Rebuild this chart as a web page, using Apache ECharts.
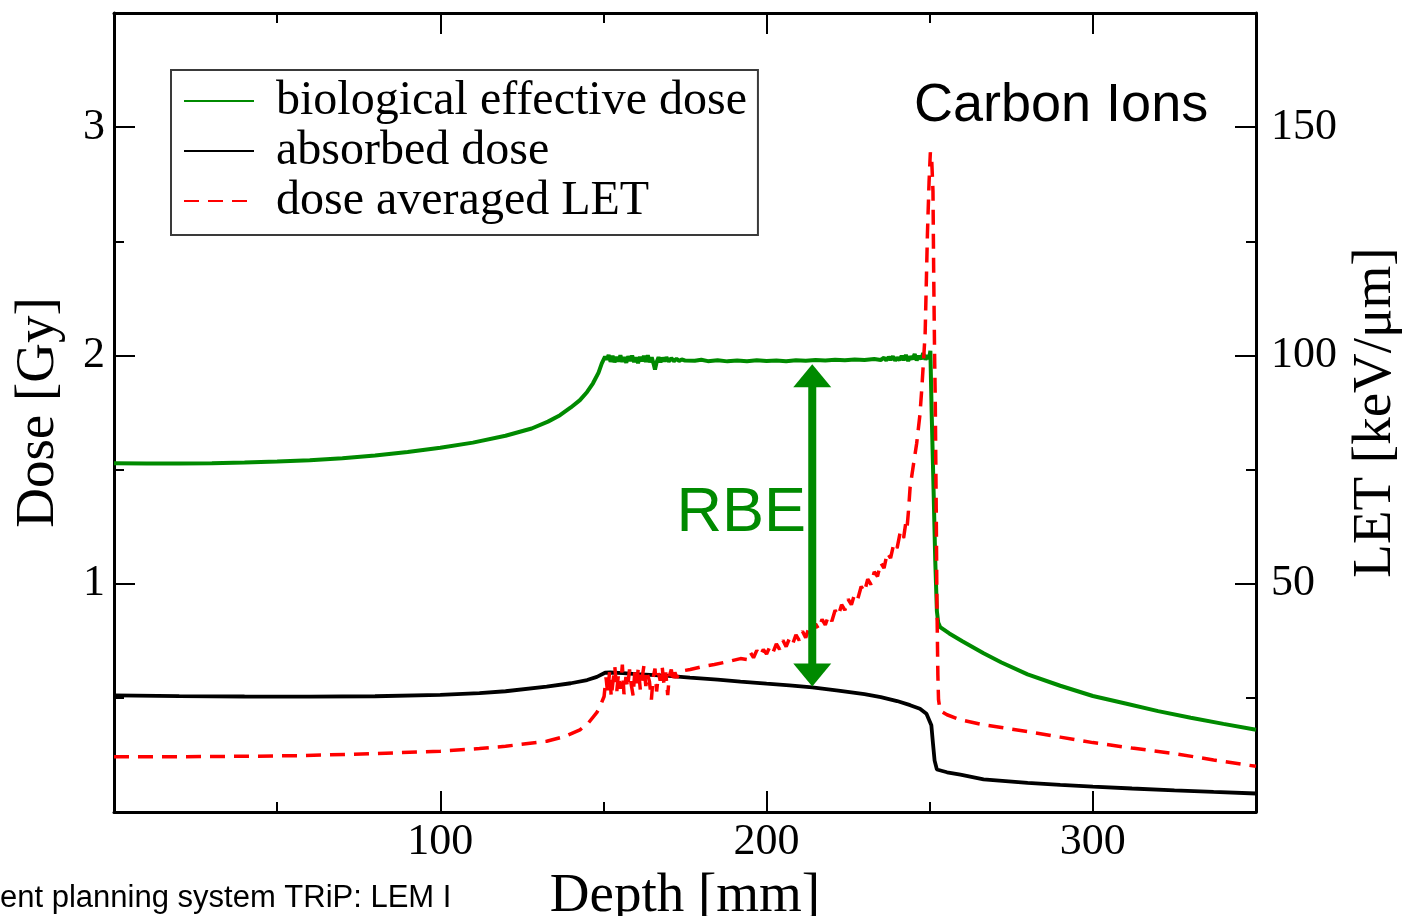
<!DOCTYPE html>
<html><head><meta charset="utf-8">
<script src="https://cdn.jsdelivr.net/npm/echarts@6/dist/echarts.min.js"></script>
<style>html,body{margin:0;padding:0;background:#fff;overflow:hidden}#c{width:1403px;height:916px}</style>
</head><body><div id="c"></div>
<script>
// ---------------- data ----------------
const seriesNames = ['biological effective dose', 'absorbed dose', 'dose averaged LET'];

// depth [mm] , biological effective dose [Gy]
const bioDose = [
  [0,1.528],[10,1.527],[20,1.527],[30,1.528],[40,1.531],[50,1.535],[60,1.541],[70,1.55],[80,1.562],[90,1.577],
  [100,1.596],[110,1.618],[120,1.648],[128,1.68],[133,1.71],[136.7,1.738],[140,1.772],[142.8,1.804],[145,1.84],
  [146.8,1.878],[148.5,1.925],[149.5,1.965],[150.5,1.995],
  [151,1.982],[151.6,2.002],[152.2,1.972],[152.8,1.998],[153.4,1.97],[154,1.994],[154.6,1.974],[155.2,2.0],
  [155.8,1.972],[156.4,1.992],[157,1.968],[157.6,1.996],[158.2,1.976],[158.8,1.999],[159.4,1.971],[160,1.992],
  [160.6,1.966],[161.2,1.994],[161.8,1.975],[162.4,1.998],[163,1.972],[163.6,2.001],[164.2,1.97],[164.8,1.992],
  [165.4,1.962],[165.8,1.938],[166.3,1.97],[166.9,1.992],[167.5,1.97],[168.1,1.99],[168.7,1.974],[169.3,1.992],
  [170,1.973],[170.8,1.988],[171.6,1.975],[172.4,1.985],[173.2,1.976],[174,1.982],[175,1.978],
  [178,1.977],[180,1.981],[182,1.975],[185,1.979],[188,1.974],[191,1.978],[194,1.975],[197,1.979],[200,1.976],
  [203,1.978],[206,1.975],[209,1.979],[212,1.977],[215,1.98],[218,1.978],[221,1.981],[224,1.979],[227,1.982],
  [230,1.98],[233,1.984],
  [235,1.98],[236,1.99],[236.7,1.978],[237.4,1.993],[238,1.981],[238.7,1.996],[239.4,1.977],[240,1.99],
  [240.7,1.98],[241.4,1.998],[242,1.979],[242.7,2.002],[243.4,1.976],[244,1.995],[244.7,1.983],[245.4,2.006],
  [246,1.978],[246.7,1.998],[247.4,1.984],[248,2.01],[248.7,1.982],[249.3,2.0],[249.8,1.985],[250.2,2.02],
  [250.6,1.75],[251.2,1.4],[251.7,1.1],[252.2,0.88],[252.6,0.83],[253.2,0.81],[256,0.782],[260,0.748],
  [266.5,0.695],[272,0.655],[280,0.603],[290,0.553],[300,0.508],[310,0.475],[320,0.442],[330,0.413],
  [340,0.386],[350,0.36]
];

// depth [mm] , absorbed dose [Gy]
const absDose = [
  [0,0.511],[20,0.508],[40,0.506],[60,0.505],[80,0.507],[100,0.513],[112,0.521],[120,0.529],[132.6,0.549],
  [140,0.564],[145,0.578],[148,0.592],[150.5,0.61],[152,0.611],[156,0.608],[160,0.604],[170,0.596],[176.5,0.589],
  [185,0.58],[192,0.571],[200,0.562],[207,0.555],[214,0.546],[222,0.532],[230,0.516],[235,0.503],[240,0.486],
  [244,0.468],[247,0.452],[249,0.43],[250.5,0.38],[251,0.3],[251.5,0.225],[252.2,0.186],[255.3,0.174],
  [259.4,0.164],[266.5,0.143],[280,0.128],[290,0.119],[300,0.111],[312,0.103],[325,0.095],[337,0.088],[350,0.081]
];

// depth [mm] , dose averaged LET [keV/um]
const letValues = [
  [0,12.1],[20,12.1],[40,12.2],[57,12.35],[80,12.8],[100,13.3],[112,13.9],[120,14.4],[132.6,15.5],[138,16.5],
  [142.8,18.0],[145.5,19.6],[148,21.8],[149.2,23.5],[150.2,25.3],
  [150.8,29.5],[151.3,26.0],[151.9,30.8],[152.4,25.2],[153,29.0],[153.5,31.8],[154.1,26.5],[154.6,30.2],
  [155.2,27.0],[155.8,32.3],[156.3,25.8],[156.9,29.6],[157.4,27.2],[158,31.2],[158.5,28.0],[159.1,25.5],
  [159.6,30.6],[160.2,28.2],[160.7,31.6],[161.3,26.8],[161.9,29.5],[162.4,32.0],[163,27.6],[163.5,30.2],
  [164.1,28.6],[164.7,24.6],[165.2,29.2],[165.8,31.4],[166.3,26.4],[166.9,30.4],[167.4,28.8],[168,31.8],
  [168.6,27.8],[169.1,30.6],[169.7,25.6],[170.2,29.8],[170.8,31.2],[171.4,28.4],[171.9,30.6],[172.5,29.4],
  [173.2,30.4],[174,30.9],
  [176.6,31.2],[180,31.8],[184,32.3],[188,32.9],[192,33.6],
  [194,33.4],[195,35.0],[196,33.8],[197,35.4],[198,34.2],[199,35.6],[200,34.6],[201,36.2],[202,35.0],[203,36.8],
  [204,35.6],[205,37.6],[206,36.2],[207,38.0],[208,36.8],[209,38.8],[210,37.6],[211,39.6],[212,38.2],[213,40.4],
  [214,39.2],[215,41.2],[216,40.0],[217,42.2],[218,41.0],[219,43.0],[220,41.8],[221,44.2],[222,43.0],[223,45.4],
  [224,44.2],[225,46.6],[226,45.4],[227,47.8],[228,46.8],[229,49.4],[230,48.2],[231,51.0],[232,49.8],[233,52.6],
  [234,51.6],[235,54.6],[236,53.4],[237,56.8],[238,55.6],[239,58.8],[240,57.8],[241,61.4],[242,60.0],[242.6,63.0],
  [243,61.8],[243.5,66],[244,71.2],[245,76],[246,80.7],[247,87],[247.6,93],[248.2,100],[248.6,104.8],
  [249.3,126.6],[249.8,138],[250.2,144.5],[250.6,143],[251,136],[251.2,119.4],[251.5,100],[251.7,90.2],
  [252,66],[252.2,46.4],[252.5,30],[252.7,24.6],[253.2,22.2],[255.3,21.3],[259.4,20.2],[266.5,19.1],
  [272,18.5],[280,17.6],[290,16.4],[300,15.2],[312,14.0],[325,12.8],[337,11.4],[350,10.0]
];

// RBE annotation arrow: depth, lower tip dose, upper tip dose
const rbeArrow = [[214, 0.55, 1.961]];

// axis ranges / tick steps
const depthRange = [0, 350], depthMajor = 100, depthMinor = 50;
const doseRange = [0, 3.5], doseMajor = 1, doseMinor = 0.5;
const letRange = [0, 175], letMajor = 50, letMinor = 25;

const texts = { x: 'Depth [mm]', yL: 'Dose [Gy]', yR: 'LET [keV/μm]', carbon: 'Carbon Ions', rbe: 'RBE', footer: 'ent planning system TRiP: LEM I' };

// ---------------- chart ----------------
const SERIF = "'Liberation Serif','Times New Roman',serif";
const SANS = "'Liberation Sans',Arial,sans-serif";
const GREEN = '#008a00';

function majorAxis(extra) {
  return Object.assign({
    type: 'value', splitLine: { show: false },
    axisLine: { show: true, onZero: false, lineStyle: { color: '#000', width: 3 } },
    axisTick: { show: true, inside: true, length: 21, lineStyle: { color: '#000', width: 2 } },
    axisLabel: { show: true, fontFamily: SERIF, fontSize: 44, color: '#000', showMinLabel: false, showMaxLabel: false },
    nameTextStyle: { fontFamily: SERIF, fontSize: 55, color: '#000' }
  }, extra);
}
function minorAxis(extra) {
  return Object.assign({
    type: 'value', splitLine: { show: false },
    axisLine: { show: false, onZero: false },
    axisTick: { show: true, inside: true, length: 10, lineStyle: { color: '#000', width: 2 } },
    axisLabel: { show: false }
  }, extra);
}

const chart = echarts.init(document.getElementById('c'), null, { renderer: 'canvas' });
chart.setOption({
  animation: false,
  backgroundColor: '#fff',
  grid: { left: 114, right: 147, top: 13, bottom: 104, containLabel: false, outerBoundsMode: 'none' },
  xAxis: [
    majorAxis({ position: 'bottom', min: depthRange[0], max: depthRange[1], interval: depthMajor,
      axisLabel: { show: true, fontFamily: SERIF, fontSize: 44, color: '#000', margin: 8, showMinLabel: false, showMaxLabel: false },
      name: texts.x, nameLocation: 'middle', nameGap: 49 }),
    minorAxis({ position: 'bottom', min: depthRange[0], max: depthRange[1], interval: depthMinor }),
    majorAxis({ position: 'top', min: depthRange[0], max: depthRange[1], interval: depthMajor, axisLabel: { show: false } }),
    minorAxis({ position: 'top', min: depthRange[0], max: depthRange[1], interval: depthMinor })
  ],
  yAxis: [
    majorAxis({ position: 'left', min: doseRange[0], max: doseRange[1], interval: doseMajor,
      axisLabel: { show: true, fontFamily: SERIF, fontSize: 44, color: '#000', margin: 9, showMinLabel: false, showMaxLabel: false },
      name: texts.yL, nameLocation: 'middle', nameGap: 48 }),
    minorAxis({ position: 'left', min: doseRange[0], max: doseRange[1], interval: doseMinor }),
    majorAxis({ position: 'right', min: letRange[0], max: letRange[1], interval: letMajor,
      axisLabel: { show: true, fontFamily: SERIF, fontSize: 44, color: '#000', margin: 15, showMinLabel: false, showMaxLabel: false },
      name: texts.yR, nameLocation: 'middle', nameGap: 84 }),
    minorAxis({ position: 'right', min: letRange[0], max: letRange[1], interval: letMinor })
  ],
  legend: {
    data: seriesNames, orient: 'vertical', left: 171, top: 70,
    padding: [7, 11, 10, 12], itemWidth: 70, itemHeight: 14, itemGap: 2,
    borderColor: '#3a3a3a', borderWidth: 2, backgroundColor: '#fff', selectedMode: false,
    itemStyle: { opacity: 0, borderWidth: 0 },
    textStyle: { fontFamily: SERIF, fontSize: 48, color: '#000', lineHeight: 48, padding: [0, 0, 0, 17] }
  },
  series: [
    { name: seriesNames[0], type: 'line', xAxisIndex: 0, yAxisIndex: 0, data: bioDose,
      symbol: 'none', showSymbol: false, lineStyle: { color: GREEN, width: 4 }, itemStyle: { color: GREEN }, z: 3 },
    { name: seriesNames[1], type: 'line', xAxisIndex: 0, yAxisIndex: 0, data: absDose,
      symbol: 'none', showSymbol: false, lineStyle: { color: '#000', width: 3.8 }, itemStyle: { color: '#000' }, z: 3 },
    { name: seriesNames[2], type: 'line', xAxisIndex: 0, yAxisIndex: 2, data: letValues,
      symbol: 'none', showSymbol: false, lineStyle: { color: '#ff0000', width: 3.5, type: [15, 9] }, itemStyle: { color: '#ff0000' }, z: 4 },
    { name: 'RBE arrow', type: 'custom', coordinateSystem: 'cartesian2d', xAxisIndex: 0, yAxisIndex: 0,
      data: rbeArrow, silent: true, z: 5, encode: { x: 0, y: [1, 2] },
      renderItem: function (params, api) {
        const lo = api.coord([api.value(0), api.value(1)]);
        const hi = api.coord([api.value(0), api.value(2)]);
        const x = lo[0], hw = 19, hh = 23, sw = 4;
        const st = { fill: GREEN };
        return { type: 'group', children: [
          { type: 'rect', shape: { x: x - sw, y: hi[1] + hh - 1, width: sw * 2, height: lo[1] - hi[1] - 2 * hh + 2 }, style: st },
          { type: 'polygon', shape: { points: [[x, hi[1]], [x - hw, hi[1] + hh], [x + hw, hi[1] + hh]] }, style: st },
          { type: 'polygon', shape: { points: [[x, lo[1]], [x - hw, lo[1] - hh], [x + hw, lo[1] - hh]] }, style: st }
        ] };
      } }
  ],
  graphic: [
    { type: 'text', x: 914, y: 106, silent: true,
      style: { text: texts.carbon, fontFamily: SANS, fontSize: 54, fill: '#000', align: 'left', verticalAlign: 'middle' } },
    { type: 'text', x: 806, y: 514, silent: true,
      style: { text: texts.rbe, fontFamily: SANS, fontSize: 63, fill: GREEN, align: 'right', verticalAlign: 'middle' } },
    { type: 'text', x: 0, y: 898, silent: true,
      style: { text: texts.footer, fontFamily: SANS, fontSize: 31, fill: '#000', align: 'left', verticalAlign: 'middle' } }
  ]
});
</script></body></html>
